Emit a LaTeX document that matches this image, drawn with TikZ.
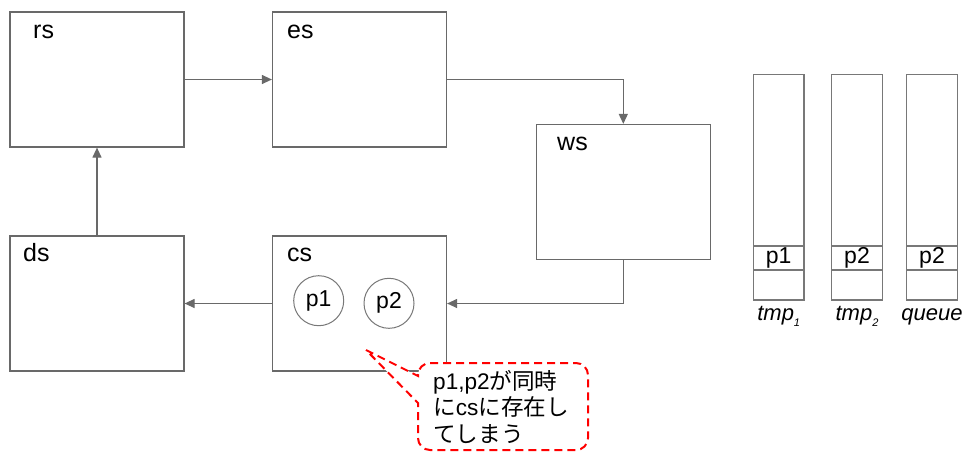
\documentclass[tikz,border=0pt]{standalone}
\usepackage{fontspec}
\setmainfont{Liberation Sans}
\newfontfamily\jpfont{Noto Sans CJK JP}
\usetikzlibrary{arrows.meta}
\definecolor{lc}{RGB}{105,105,105}
\definecolor{cc}{RGB}{120,120,120}
\definecolor{rd}{RGB}{255,0,0}
\tikzset{
  box/.style={draw=lc, line width=1.2pt, fill=white, minimum width=174pt, minimum height=135pt, inner sep=0pt},
  lbl/.style={anchor=base west, inner sep=0pt, font=\fontsize{25}{25}\selectfont},
  arr/.style={draw=lc, line width=1.2pt, -{Triangle[length=10pt,width=9pt]}},
  pc/.style={circle, draw=cc, line width=1pt, minimum size=50pt, inner sep=0pt, font=\fontsize{23}{23}\selectfont},
  colbox/.style={draw=cc, line width=1.2pt, minimum width=50.7pt, minimum height=225.3pt, inner sep=0pt},
  cellbox/.style={draw=cc, line width=1.2pt, minimum width=50.7pt, minimum height=24pt, inner sep=0pt, font=\fontsize{23}{23}\selectfont},
  collbl/.style={anchor=base, inner sep=0pt, font=\fontsize{22}{22}\selectfont\itshape},
  callout/.style={draw=rd, line width=2pt, dash pattern=on 8pt off 5pt, fill=white},
}
\newcommand{\mysub}[1]{\raisebox{-6pt}{\fontsize{11}{11}\selectfont\itshape #1}}
\begin{document}
\begin{tikzpicture}[x=1pt,y=-1pt]
\useasboundingbox (0,0) rectangle (966,453);
% boxes
\node[box] (rs) at (97,79.5) {};
\node[box] (es) at (359.5,79.5) {};
\node[box] (ws) at (623.3,192) {};
\node[box] (ds) at (97,303.5) {};
\node[box] (cs) at (359.5,303.5) {};
% labels
\node[lbl] (rsl) at (33,38) {rs};
\node[lbl] (esl) at (287,38) {es};
\node[lbl] (wsl) at (557,150) {ws};
\node[lbl] (csl) at (287,261.5) {cs};
\node[lbl] (dsl) at (23,261.5) {ds};
% connectors
\draw[arr] (rs.east) -- (es.west);
\draw[arr] (es.east) -| (ws.north);
\draw[arr] (ws.south) |- (cs.east);
\draw[arr] (cs.west) -- (ds.east);
\draw[arr] (ds.north) -- (rs.south);
% processes
\node[pc] (p1) at (318.7,300.7) {p1};
\node[pc] (p2) at (389,303.3) {p2};
% columns
\node[colbox] (tmpa) at (778.7,187.35) {};
\node[colbox] (tmpb) at (857,187.35) {};
\node[colbox] (que) at (932,187.35) {};
\node[cellbox] (ca) at (778.7,258) {p1};
\node[cellbox] (cb) at (857,258) {p2};
\node[cellbox] (cq) at (932,258) {p2};
\node[collbl] (la) at (778.7,320.5) {tmp\mysub{1}};
\node[collbl] (lb) at (857,320.5) {tmp\mysub{2}};
\node[collbl] (lq) at (932,320.5) {queue};
% callout
\draw[callout] (366,350) -- (418,376) [rounded corners=12pt] -- (418,363) -- (588,363) -- (588,450) -- (418,450) [sharp corners] -- (418,403) -- cycle;
\node[anchor=north west, align=left, inner sep=0pt, font=\fontsize{22.6}{26.5}\selectfont] (note) at (433,370)
  {p1,p2{\jpfont が同時}\\{\jpfont に}cs{\jpfont に存在し}\\{\jpfont てしまう}};
\end{tikzpicture}
\end{document}
